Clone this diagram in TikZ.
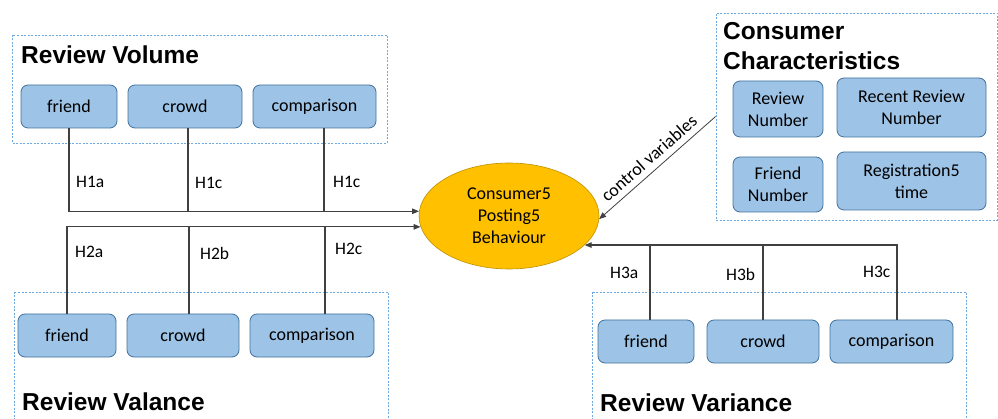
\documentclass[tikz,border=0pt]{standalone}
\usepackage{fontspec}
\setmainfont{Carlito}
\newfontfamily\headfont{Liberation Sans}
\usetikzlibrary{arrows.meta,shapes.geometric}
\definecolor{boxfill}{RGB}{157,195,230}
\definecolor{boxline}{RGB}{65,113,156}
\definecolor{grpline}{RGB}{110,170,225}
\definecolor{ellfill}{RGB}{255,192,0}
\definecolor{ellline}{RGB}{191,144,0}
\definecolor{wirecol}{RGB}{64,64,64}
\begin{document}
\begin{tikzpicture}[x=1pt,y=-1pt,
  box/.style={draw=boxline,fill=boxfill,rounded corners=7pt,line width=0.8pt,inner sep=0pt,align=center,font=\fontsize{18}{22}\selectfont},
  grp/.style={draw=grpline,dash pattern=on 2pt off 1.5pt,line width=0.8pt},
  ttl/.style={inner sep=0pt,align=left,font=\headfont\bfseries\fontsize{24.5}{30}\selectfont},
  hyp/.style={inner sep=0pt,anchor=west,font=\fontsize{17.5}{21}\selectfont},
  wire/.style={draw=wirecol,line width=1.2pt},
  arr/.style={wire,-{Triangle[length=7pt,width=5.5pt]}}]
\useasboundingbox (0,0) rectangle (998,419);
% groups
\draw[grp] (12,35) rectangle (387,143);
\draw[grp] (14,292) rectangle (388,425);
\draw[grp] (592,292) rectangle (966,425);
\node[grp,minimum width=281,minimum height=207] (ccg) at (856.5,116.5) {};
\node[ttl,anchor=west] at (21,55) {Review Volume};
\node[ttl,anchor=west] at (22,401.5) {Review Valance};
\node[ttl,anchor=west] at (600,403) {Review Variance};
\node[ttl,anchor=north west] at (723,22) {Consumer\\Characteristics};
% outcome
\node[ellipse,draw=ellline,fill=ellfill,line width=0.6pt,minimum width=180,minimum height=106,inner sep=0pt,align=center,font=\fontsize{18}{22}\selectfont] (cb) at (509,216) {Consumer5\\Posting5\\Behaviour};
% review volume
\node[box,minimum width=96,minimum height=43] (vf) at (69,106.5) {friend};
\node[box,minimum width=114,minimum height=43] (vc) at (185,106.5) {crowd};
\node[box,minimum width=123,minimum height=43] (vp) at (314.5,106.5) {comparison};
% review valance
\node[box,minimum width=98,minimum height=43] (af) at (67,335.5) {friend};
\node[box,minimum width=112,minimum height=43] (ac) at (183,335.5) {crowd};
\node[box,minimum width=124,minimum height=43] (ap) at (312,335.5) {comparison};
% review variance
\node[box,minimum width=96,minimum height=43] (rf) at (646,341.5) {friend};
\node[box,minimum width=112,minimum height=43] (rc) at (763,341.5) {crowd};
\node[box,minimum width=123,minimum height=43] (rp) at (891.5,341.5) {comparison};
% consumer characteristics
\node[box,minimum width=90,minimum height=56] (cr) at (778,109) {Review\\Number};
\node[box,minimum width=149,minimum height=59] (cn) at (911.5,107.5) {Recent Review\\Number};
\node[box,minimum width=90,minimum height=55] (cf) at (778,184.5) {Friend\\Number};
\node[box,minimum width=149,minimum height=58] (ct) at (911.5,181) {Registration5\\time};
% connectors
\draw[arr] (vf.south) |- (cb.177.5);
\draw[wire] ([xshift=3pt]vc.south) -- ([xshift=3pt]vc.south |- cb.177.5);
\draw[wire] ([xshift=9.5pt]vp.south) -- ([xshift=9.5pt]vp.south |- cb.177.5);
\draw[arr] (af.north) |- (cb.187);
\draw[wire] ([xshift=6pt]ac.north) -- ([xshift=6pt]ac.north |- cb.187);
\draw[wire] ([xshift=13pt]ap.north) -- ([xshift=13pt]ap.north |- cb.187);
\draw[arr] ([xshift=5.5pt]rp.north) |- (cb.339);
\draw[wire] ([xshift=4pt]rf.north) -- ([xshift=4pt]rf.north |- cb.339);
\draw[wire] (rc.north) -- (rc.north |- cb.339);
\draw[arr,line width=0.8pt] (ccg.west) -- (cb.358)
  node[midway,above=6pt,sloped,inner sep=0pt,font=\fontsize{18}{21}\selectfont] {control variables};
% hypothesis labels
\node[hyp] at (76,182) {H1a};
\node[hyp] at (195,183) {H1c};
\node[hyp] at (333,182) {H1c};
\node[hyp] at (75,252) {H2a};
\node[hyp] at (200,253) {H2b};
\node[hyp] at (335,249) {H2c};
\node[hyp] at (610,273) {H3a};
\node[hyp] at (726,274) {H3b};
\node[hyp] at (863,272) {H3c};
\end{tikzpicture}
\end{document}
